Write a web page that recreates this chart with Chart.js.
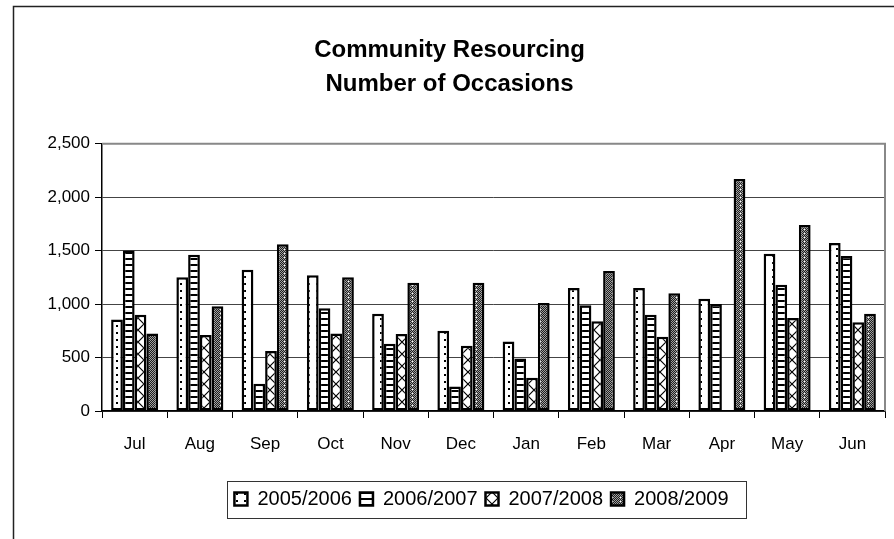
<!DOCTYPE html>
<html>
<head>
<meta charset="utf-8">
<title>Community Resourcing</title>
<script src="https://cdn.jsdelivr.net/npm/chart.js@4/dist/chart.umd.min.js"></script>
<style>
  html, body { margin: 0; padding: 0; background: #fff; }
  canvas { display: block; }
</style>
</head>
<body>
<canvas id="chart" width="894" height="539"></canvas>
<script>
// monthly occasions per financial year
const months = ['Jul', 'Aug', 'Sep', 'Oct', 'Nov', 'Dec', 'Jan', 'Feb', 'Mar', 'Apr', 'May', 'Jun'];
const years = ['2005/2006', '2006/2007', '2007/2008', '2008/2009'];
const fy0506 = [855, 1250, 1320, 1270, 910, 750, 650, 1150, 1150, 1050, 1470, 1570];
const fy0607 = [1500, 1460, 255, 960, 630, 230, 490, 990, 900, 1000, 1180, 1450];
const fy0708 = [900, 710, 560, 725, 720, 610, 310, 840, 695, null, 870, 830];
const fy0809 = [725, 980, 1560, 1250, 1200, 1200, 1010, 1310, 1100, 2170, 1740, 910];
const yTicks = [0, 500, 1000, 1500, 2000, 2500];

const canvas = document.getElementById('chart');
const ctx = canvas.getContext('2d');
const FONT = '"Liberation Sans", Arial, sans-serif';

// small tiles for the old-style fill patterns
function tile(w, h, draw) {
  const c = document.createElement('canvas');
  c.width = w; c.height = h;
  const g = c.getContext('2d');
  g.fillStyle = '#fff';
  g.fillRect(0, 0, w, h);
  draw(g, w, h);
  return ctx.createPattern(c, 'repeat');
}

const dotted = tile(8, 7, g => {
  g.fillStyle = '#000';
  g.fillRect(4, 3, 2, 2);
});
const hlines = tile(6, 6, g => {
  g.fillStyle = '#000';
  g.fillRect(0, 0, 6, 2);
});
const cross = tile(12, 12, g => {
  g.strokeStyle = '#000';
  g.lineWidth = 1.2;
  g.beginPath();
  g.moveTo(0, 0); g.lineTo(12, 12);
  g.moveTo(12, 0); g.lineTo(0, 12);
  g.stroke();
});
const dense = tile(8, 8, g => {
  for (let y = 0; y < 8; y++) {
    for (let x = 0; x < 8; x++) {
      g.fillStyle = (x + y) % 2 ? '#1e1e1e' : '#a0a0a0';
      g.fillRect(x, y, 1, 1);
    }
  }
  g.fillStyle = '#fff';
  g.fillRect(4, 1, 1, 1);
  g.fillRect(4, 5, 1, 1);
});

const fills = [dotted, hlines, cross, dense];
const series = [fy0506, fy0607, fy0708, fy0809];

// outer frame, plot-area border and legend box
const frame = {
  id: 'frame',
  afterLayout(chart) {
    // pull the legend row a little to the left
    chart.legend.left -= 12;
    chart.legend.right -= 12;
  },
  beforeDraw(chart) {
    const c = chart.ctx;
    c.save();
    c.strokeStyle = '#222';
    c.lineWidth = 1.5;
    c.beginPath();
    c.moveTo(13.5, 539);
    c.lineTo(13.5, 6.5);
    c.lineTo(894, 6.5);
    c.stroke();
    c.restore();
  },
  afterDraw(chart) {
    const c = chart.ctx;
    const a = chart.chartArea;
    c.save();
    c.strokeStyle = '#888';
    c.lineWidth = 2;
    c.beginPath();
    c.moveTo(a.left, a.top);
    c.lineTo(a.right, a.top);
    c.lineTo(a.right, a.bottom);
    c.stroke();

    const lg = chart.legend;
    const boxes = lg.legendHitBoxes;
    if (boxes && boxes.length) {
      const l = Math.min(...boxes.map(b => b.left)) - 7;
      const r = Math.max(...boxes.map(b => b.left + b.width)) + 18;
      c.strokeStyle = '#333';
      c.lineWidth = 1;
      c.strokeRect(Math.round(l) + 0.5, Math.round(lg.top) + 0.5, Math.round(r - l), Math.round(lg.height) - 1);
    }
    c.restore();
  }
};

new Chart(ctx, {
  type: 'bar',
  data: {
    labels: months,
    datasets: years.map((y, i) => ({
      label: y,
      data: series[i],
      backgroundColor: fills[i],
      borderColor: '#000',
      borderWidth: 2.5,
      borderSkipped: false,
      categoryPercentage: 0.72,
      barPercentage: 1.0
    }))
  },
  options: {
    responsive: false,
    animation: false,
    layout: { padding: { left: 14, right: 9, top: 6, bottom: 20 } },
    plugins: {
      title: {
        display: true,
        text: ['Community Resourcing', 'Number of Occasions'],
        color: '#000',
        font: { family: FONT, size: 24, weight: 'bold', lineHeight: 1.43 },
        padding: { top: 27, bottom: 42 }
      },
      legend: {
        position: 'bottom',
        fullSize: false,
        labels: {
          color: '#000',
          font: { family: FONT, size: 20 },
          boxWidth: 13,
          boxHeight: 13,
          padding: 8
        }
      },
      tooltip: { enabled: false }
    },
    scales: {
      x: {
        grid: { display: true, drawOnChartArea: false, tickLength: 7, tickColor: '#000', color: '#000' },
        border: { display: true, color: '#000', width: 1.5 },
        ticks: { color: '#000', font: { family: FONT, size: 17 }, padding: 16, maxRotation: 0 },
        afterFit(scale) { scale.height = 70; }
      },
      y: {
        min: 0,
        max: 2500,
        afterBuildTicks(scale) { scale.ticks = yTicks.map(v => ({ value: v })); },
        grid: { color: '#444', lineWidth: 1, tickLength: 7, tickColor: '#000' },
        border: { display: true, color: '#000', width: 1.5 },
        ticks: {
          color: '#000',
          font: { family: FONT, size: 17 },
          padding: 5,
          callback: v => v.toLocaleString('en-US')
        },
        afterFit(scale) { scale.width = 88; }
      }
    }
  },
  plugins: [frame]
});
</script>
</body>
</html>
